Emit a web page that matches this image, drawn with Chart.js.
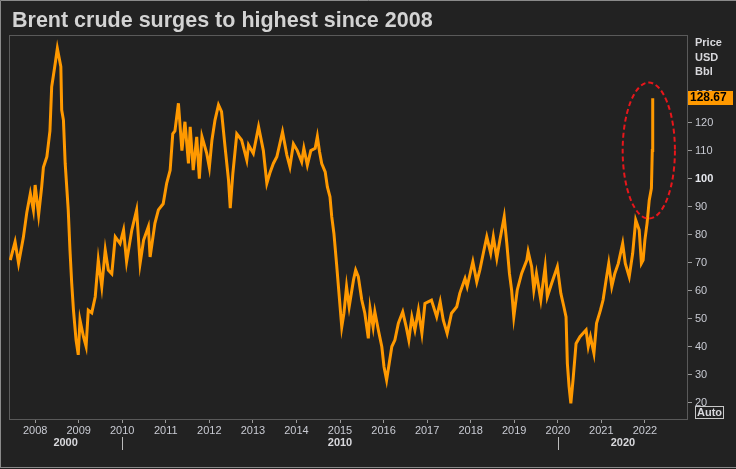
<!DOCTYPE html>
<html>
<head>
<meta charset="utf-8">
<script src="https://cdn.jsdelivr.net/npm/chart.js@4.4.1/dist/chart.umd.min.js"></script>
<style>
  html, body { margin: 0; padding: 0; background: #222; }
  #wrap { width: 736px; height: 469px; }
</style>
</head>
<body>
<div id="wrap"><canvas id="chart" width="736" height="469"></canvas></div>
<script>
const title = 'Brent crude surges to highest since 2008';
const unitLines = ['Price', 'USD', 'Bbl'];

// Brent price (decimal year -> USD/bbl)
const years = [
  2007.43, 2007.54, 2007.62, 2007.73, 2007.81, 2007.89, 2007.96,
  2008.00, 2008.08, 2008.15, 2008.19, 2008.27, 2008.34, 2008.38, 2008.46, 2008.51, 2008.59, 2008.61, 2008.65, 2008.69, 2008.76, 2008.80, 2008.84, 2008.88, 2008.94, 2008.99,
  2009.03, 2009.11, 2009.17, 2009.22, 2009.30, 2009.38, 2009.45, 2009.53, 2009.61, 2009.68, 2009.76, 2009.84, 2009.95,
  2010.03, 2010.10, 2010.22, 2010.33, 2010.41, 2010.49, 2010.60, 2010.64, 2010.75, 2010.83, 2010.94,
  2011.02, 2011.10, 2011.16, 2011.21, 2011.29, 2011.37, 2011.44, 2011.52, 2011.56, 2011.63, 2011.71, 2011.77, 2011.83, 2011.94,
  2012.00, 2012.06, 2012.13, 2012.21, 2012.28, 2012.36, 2012.44, 2012.48, 2012.54, 2012.63, 2012.74, 2012.86, 2012.90,
  2013.01, 2013.13, 2013.24, 2013.32, 2013.39, 2013.47, 2013.55, 2013.68, 2013.78, 2013.85, 2013.93,
  2014.02, 2014.12, 2014.17, 2014.25, 2014.33, 2014.43, 2014.48, 2014.53, 2014.58, 2014.66, 2014.71, 2014.77, 2014.81, 2014.86, 2014.92, 2014.97,
  2015.04, 2015.09, 2015.15, 2015.21, 2015.31, 2015.36, 2015.42, 2015.50, 2015.57, 2015.65, 2015.69, 2015.76, 2015.80, 2015.88, 2015.96,
  2016.01, 2016.07, 2016.13, 2016.19, 2016.26, 2016.34, 2016.44, 2016.52, 2016.58, 2016.65, 2016.72, 2016.80, 2016.88, 2016.95,
  2017.10, 2017.22, 2017.30, 2017.37, 2017.46, 2017.56, 2017.68, 2017.75, 2017.87, 2017.92,
  2018.05, 2018.14, 2018.21, 2018.29, 2018.37, 2018.46, 2018.52, 2018.60, 2018.67, 2018.77, 2018.83, 2018.89, 2018.94, 2018.99,
  2019.07, 2019.17, 2019.29, 2019.32, 2019.40, 2019.45, 2019.51, 2019.61, 2019.71, 2019.76, 2019.86, 2019.99,
  2020.07, 2020.14, 2020.19, 2020.22, 2020.26, 2020.30, 2020.35, 2020.42, 2020.51, 2020.65, 2020.70, 2020.75, 2020.83, 2020.89, 2020.98,
  2021.04, 2021.11, 2021.17, 2021.24, 2021.31, 2021.39, 2021.49, 2021.55, 2021.64, 2021.72, 2021.79, 2021.87, 2021.92, 2021.96,
  2022.00, 2022.05, 2022.10, 2022.15, 2022.17, 2022.18
];
const prices = [
  70.9, 77.4, 69.7, 79.0, 88.0, 94.7, 88.8,
  97.7, 87.0, 97.0, 104.0, 107.8, 117.0, 132.8, 141.0, 146.5, 140.0, 124.5, 120.9, 105.4, 88.8, 74.5, 62.6, 53.0, 42.3, 37.0,
  49.5, 43.5, 40.0, 53.0, 52.0, 57.8, 70.9, 61.4, 74.5, 67.3, 66.0, 79.2, 76.8,
  81.6, 70.3, 81.6, 88.8, 69.7, 78.0, 82.8, 72.0, 84.0, 88.8, 91.0,
  98.3, 103.0, 116.0, 117.0, 126.9, 110.0, 120.3, 105.4, 118.5, 103.0, 114.9, 100.0, 115.0, 109.0,
  104.0, 113.8, 120.9, 126.3, 123.9, 111.4, 99.5, 89.4, 101.9, 116.0, 113.8, 106.6, 112.0,
  109.0, 118.5, 110.0, 98.3, 102.0, 105.4, 107.8, 116.7, 108.4, 104.2, 112.4,
  110.0, 106.0, 110.8, 104.8, 110.0, 110.8, 115.0, 109.6, 105.4, 102.4, 97.0, 93.5, 86.4, 80.4, 69.7, 60.2,
  47.0, 51.9, 61.4, 54.2, 63.8, 67.3, 65.0, 56.6, 51.9, 42.9, 53.6, 47.0, 52.4, 45.9, 39.9,
  32.8, 28.0, 34.0, 40.0, 42.3, 48.3, 52.4, 47.0, 42.3, 50.6, 45.9, 53.0, 44.7, 55.4,
  56.6, 50.6, 56.0, 49.5, 44.7, 51.9, 54.2, 59.0, 64.3, 61.4,
  70.3, 63.1, 67.3, 73.3, 79.2, 73.3, 79.2, 71.5, 78.0, 86.4, 76.8, 66.1, 60.2, 50.6,
  60.2, 66.1, 70.9, 73.9, 68.5, 60.2, 66.1, 56.6, 68.5, 57.8, 62.6, 68.5,
  59.0, 54.2, 50.6, 34.0, 25.6, 19.7, 28.0, 41.1, 43.5, 45.9, 40.0, 43.5, 37.6, 48.3, 53.0,
  56.6, 63.8, 69.7, 61.4, 66.1, 69.7, 76.8, 69.7, 64.9, 73.3, 85.2, 81.6, 69.7, 70.9,
  78.0, 84.0, 92.3, 96.5, 110.0, 128.67
];

const yearTicks = [2008, 2009, 2010, 2011, 2012, 2013, 2014, 2015, 2016, 2017, 2018, 2019, 2020, 2021, 2022];
const decadeLabels = ['2000', '2010', '2020'];
const decadeBreaks = [2010, 2020];
const priceTicks = [20, 30, 40, 50, 60, 70, 80, 90, 100, 110, 120, 130];

// dashed ring round the March 2022 spike, in data units
const ring = { year: 2022.09, price: 110, halfYears: 0.6, halfPrice: 24.3 };

const ORANGE = '#ff9900';
const TEXT = '#c9cbd3';

const overlay = {
  id: 'overlay',
  beforeDraw(chart) {
    const c = chart.ctx;
    c.save();
    c.fillStyle = '#222222';
    c.fillRect(0, 0, chart.width, chart.height);
    c.strokeStyle = '#8a8a8a';
    c.lineWidth = 1;
    c.beginPath();
    c.moveTo(0.5, chart.height - 1.5);
    c.lineTo(0.5, 0.5);
    c.lineTo(chart.width, 0.5);
    c.moveTo(0, chart.height - 1.5);
    c.lineTo(chart.width, chart.height - 1.5);
    c.stroke();
    c.restore();
  },
  beforeDatasetsDraw(chart) {
    const c = chart.ctx, a = chart.chartArea;
    c.save();
    c.strokeStyle = '#5a5a5a';
    c.lineWidth = 1;
    c.strokeRect(a.left + 0.5, a.top + 0.5, a.right - a.left - 1, a.bottom - a.top);
    c.restore();
  },
  afterDatasetsDraw(chart) {
    const c = chart.ctx, x = chart.scales.x, y = chart.scales.y;
    const cx = x.getPixelForValue(ring.year), cy = y.getPixelForValue(ring.price);
    const rx = x.getPixelForValue(ring.year + ring.halfYears) - cx;
    const ry = cy - y.getPixelForValue(ring.price + ring.halfPrice);
    c.save();
    c.strokeStyle = '#e8161b';
    c.lineWidth = 2;
    c.setLineDash([5, 3]);
    c.beginPath();
    c.ellipse(cx, cy, rx, ry, 0, 0, Math.PI * 2);
    c.stroke();
    c.restore();
  },
  afterDraw(chart) {
    const c = chart.ctx, a = chart.chartArea, x = chart.scales.x, y = chart.scales.y;
    c.save();
    // title
    c.fillStyle = '#d3d3d3';
    c.font = 'bold 21.5px "Liberation Sans", Arial, sans-serif';
    c.textBaseline = 'alphabetic';
    c.textAlign = 'left';
    c.fillText(title, 12, 27);

    // unit header
    c.font = 'bold 11px "Liberation Sans", Arial, sans-serif';
    c.fillStyle = '#d8d8dc';
    c.textBaseline = 'middle';
    unitLines.forEach((t, i) => c.fillText(t, 695, 43 + i * 14.5));

    // decade row
    const edges = [a.left].concat(decadeBreaks.map(v => x.getPixelForValue(v)), [a.right]);
    c.font = 'bold 11px "Liberation Sans", Arial, sans-serif';
    c.fillStyle = '#d8d8dc';
    c.textAlign = 'center';
    decadeLabels.forEach((t, i) => c.fillText(t, (edges[i] + edges[i + 1]) / 2, 443));
    c.strokeStyle = '#bbbbbb';
    c.lineWidth = 1;
    decadeBreaks.forEach(v => {
      const px = Math.round(x.getPixelForValue(v)) + 0.5;
      c.beginPath();
      c.moveTo(px, 437);
      c.lineTo(px, 450);
      c.stroke();
    });

    // last price tag
    const last = prices[prices.length - 1];
    const ty = y.getPixelForValue(last);
    c.fillStyle = ORANGE;
    c.fillRect(a.right, Math.round(ty) - 7, 45, 14);
    c.fillStyle = '#000';
    c.font = 'bold 12px "Liberation Sans", Arial, sans-serif';
    c.textAlign = 'left';
    c.fillText(last.toFixed(2), a.right + 2, Math.round(ty));

    // Auto button
    c.strokeStyle = '#c8c8c8';
    c.strokeRect(695.5, 406.5, 28, 12);
    c.fillStyle = '#d8d8dc';
    c.font = 'bold 11px "Liberation Sans", Arial, sans-serif';
    c.fillText('Auto', 697, 413);
    c.restore();
  }
};

const ctx = document.getElementById('chart').getContext('2d');

const chart = new Chart(ctx, {
  type: 'line',
  data: {
    datasets: [{
      label: 'Brent',
      data: years.map((t, i) => ({ x: t, y: prices[i] })),
      borderColor: ORANGE,
      borderWidth: 3,
      pointRadius: 0,
      tension: 0,
      fill: false
    }]
  },
  options: {
    responsive: false,
    devicePixelRatio: 1,
    animation: false,
    events: [],
    layout: { padding: { left: 9, top: 35, right: 0, bottom: 0 } },
    plugins: {
      legend: { display: false },
      tooltip: { enabled: false }
    },
    scales: {
      x: {
        type: 'linear',
        min: 2007.4,
        max: 2022.99,
        afterBuildTicks: s => { s.ticks = yearTicks.map(v => ({ value: v })); },
        afterFit: s => { s.height = 50; },
        grid: { drawOnChartArea: false, drawTicks: true, tickLength: 4, color: '#9a9a9a' },
        border: { display: false },
        ticks: {
          autoSkip: false,
          maxRotation: 0,
          padding: 1,
          color: TEXT,
          font: { family: '"Liberation Sans", Arial, sans-serif', size: 11 },
          callback: v => String(v)
        }
      },
      y: {
        position: 'right',
        min: 14.1,
        max: 151.3,
        afterBuildTicks: s => { s.ticks = priceTicks.map(v => ({ value: v })); },
        afterFit: s => { s.width = 48; },
        grid: { drawOnChartArea: false, drawTicks: true, tickLength: 4, color: '#9a9a9a' },
        border: { display: false },
        ticks: {
          padding: 3,
          color: c => c.tick && c.tick.value === 100 ? '#e6e8ee' : TEXT,
          font: c => ({
            family: '"Liberation Sans", Arial, sans-serif',
            size: 11,
            weight: c.tick && c.tick.value === 100 ? 'bold' : 'normal'
          }),
          callback: v => String(v)
        }
      }
    }
  },
  plugins: [overlay]
});
</script>
</body>
</html>
